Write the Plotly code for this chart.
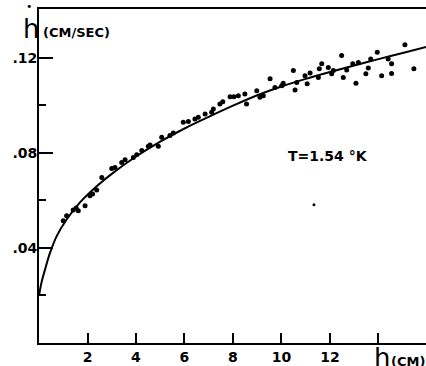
import plotly.graph_objects as go

# measured points: height h (cm) and rate h-dot (cm/sec)
h_pts = [1.00, 1.14, 1.41, 1.53, 1.62, 1.90, 2.10, 2.21, 2.38,
         2.59, 3.00, 3.13, 3.41, 3.55, 3.89, 4.03, 4.24, 4.51, 4.58, 4.92,
         5.06, 5.40, 5.54, 5.95, 6.16, 6.43, 6.57, 6.85, 7.12, 7.19, 7.46,
         7.58, 7.88, 8.04, 8.22, 8.49, 8.56, 8.98, 9.11, 9.25, 9.53, 9.73,
         10.01, 10.07, 10.49, 10.56, 10.63, 10.97, 11.06, 11.18, 11.52, 11.56,
         11.66, 11.93, 12.07, 12.14, 12.48, 12.55, 12.69, 12.94, 13.07, 13.17,
         13.48, 13.58, 13.68, 13.95, 14.13, 14.40, 14.54, 14.54, 15.09, 15.46]
v_pts = [0.0515, 0.0536, 0.0560, 0.0568, 0.0557, 0.0578, 0.0620, 0.0627, 0.0644,
         0.0697, 0.0735, 0.0739, 0.0760, 0.0771, 0.0781, 0.0792, 0.0810, 0.0828, 0.0834, 0.0828,
         0.0866, 0.0873, 0.0884, 0.0929, 0.0932, 0.0943, 0.0950, 0.0964, 0.0971, 0.0985, 0.1006,
         0.1016, 0.1037, 0.1037, 0.1041, 0.1048, 0.1006, 0.1062, 0.1034, 0.1041, 0.1112, 0.1076,
         0.1083, 0.1093, 0.1147, 0.1065, 0.1097, 0.1125, 0.1091, 0.1137, 0.1118, 0.1154,
         0.1175, 0.1160, 0.1133, 0.1147, 0.1210, 0.1118, 0.1149, 0.1175, 0.1093, 0.1181,
         0.1133, 0.1158, 0.1196, 0.1224, 0.1125, 0.1196, 0.1175, 0.1135, 0.1255, 0.1154]

# stray small point
h_stray = [11.34]
v_stray = [0.0582]

# fitted curve
h_curve = [0, 0.05, 0.12, 0.25, 0.45, 0.73, 1.14, 1.69, 2.38, 3.0, 4.0, 5.0, 6.0, 7.0,
           8.0, 9.0, 10.0, 11.0, 12.0, 13.0, 14.0, 15.0, 16.0]
v_curve = [0.0198, 0.0228, 0.0262, 0.0310, 0.0378, 0.0450, 0.0520, 0.0592, 0.0660,
           0.0712, 0.0785, 0.0848, 0.0903, 0.0952, 0.0999, 0.1043, 0.1080, 0.1112,
           0.1141, 0.1168, 0.1195, 0.1221, 0.1247]

x_tickvals = [2, 4, 6, 8, 10, 12, 14]
x_ticktext = ["2", "4", "6", "8", "10", "12", ""]
y_tickvals = [0.04, 0.08, 0.12]
y_ticktext = [".04", ".08", ".12"]
y_minorvals = [0.02, 0.06, 0.10]

fig = go.Figure()
fig.add_trace(go.Scatter(x=h_curve, y=v_curve, mode="lines",
                         line=dict(color="black", width=2, shape="spline", smoothing=0.8),
                         showlegend=False, hoverinfo="skip"))
fig.add_trace(go.Scatter(x=h_pts, y=v_pts, mode="markers",
                         marker=dict(color="black", size=5),
                         showlegend=False))
fig.add_trace(go.Scatter(x=h_stray, y=v_stray, mode="markers",
                         marker=dict(color="black", size=3),
                         showlegend=False))

tickfont = dict(family="DejaVu Sans", size=14, color="black", weight="bold")

fig.update_layout(
    width=426, height=366,
    margin=dict(l=39, r=0, t=9, b=23),
    paper_bgcolor="white", plot_bgcolor="white",
    xaxis=dict(range=[0, 15.96], showgrid=False, zeroline=False,
               showline=True, linecolor="black", linewidth=2, mirror=True,
               ticks="inside", ticklen=10, tickwidth=2, tickcolor="black",
               tickvals=x_tickvals, ticktext=x_ticktext, tickfont=tickfont),
    yaxis=dict(range=[0, 0.1406], showgrid=False, zeroline=False,
               showline=True, linecolor="black", linewidth=2,
               ticks="inside", ticklen=14, tickwidth=2, tickcolor="black",
               tickvals=y_tickvals, ticktext=y_ticktext, tickfont=tickfont,
               ticklabelstandoff=-3,
               minor=dict(tickvals=y_minorvals, ticks="inside", ticklen=7,
                          tickwidth=2, tickcolor="black")),
    annotations=[
        dict(text="T=1.54 °K", x=11.93, y=0.0788, xref="x", yref="y",
             showarrow=False, font=dict(family="DejaVu Sans", size=14,
                                        color="black", weight="bold")),
        dict(text="h", x=-0.046, y=0.94, xref="paper", yref="paper",
             xanchor="left", yanchor="middle", showarrow=False,
             font=dict(family="DejaVu Sans", size=26, color="black")),
        dict(text="•", x=-0.025, y=1.008, xref="paper", yref="paper",
             xanchor="center", yanchor="middle", showarrow=False,
             font=dict(family="DejaVu Sans", size=11, color="black")),
        dict(text="(CM/SEC)", x=0.005, y=0.93, xref="paper", yref="paper",
             xanchor="left", yanchor="middle", showarrow=False,
             font=dict(family="DejaVu Sans", size=13, color="black", weight="bold")),
        dict(text="h", x=0.86, y=-0.045, xref="paper", yref="paper",
             xanchor="left", yanchor="middle", showarrow=False,
             font=dict(family="DejaVu Sans", size=26, color="black")),
        dict(text="(CM)", x=0.905, y=-0.055, xref="paper", yref="paper",
             xanchor="left", yanchor="middle", showarrow=False,
             font=dict(family="DejaVu Sans", size=13, color="black", weight="bold")),
    ],
)

fig.write_html("out.html", config={"displayModeBar": False},
               post_script="document.body.style.margin='0';")
